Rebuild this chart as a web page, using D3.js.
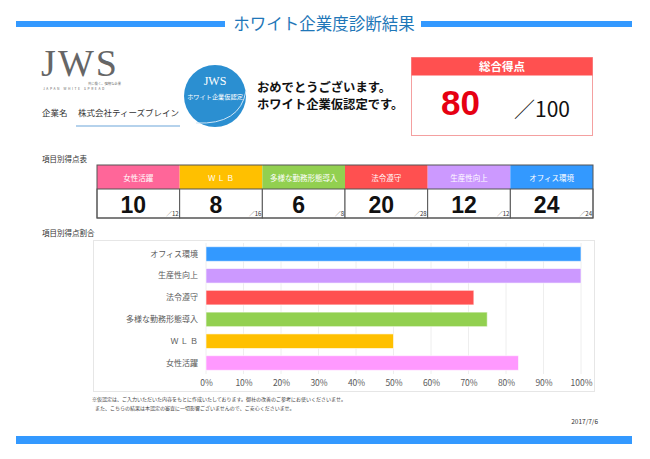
<!DOCTYPE html>
<html>
<head>
<meta charset="utf-8">
<script src="https://cdn.jsdelivr.net/npm/d3@7"></script>
<style>
  body { margin: 0; background: #fff; }
  svg { display: block; font-family: "Noto Sans CJK JP", "Noto Sans", sans-serif; }
</style>
</head>
<body>
<svg id="vis" width="650" height="459"></svg>
<script>
// 項目ごとのデータ
var categories = ["女性活躍", "ＷＬＢ", "多様な勤務形態導入", "法令遵守", "生産性向上", "オフィス環境"];
var scores = [10, 8, 6, 20, 12, 24];
var maxScores = [12, 16, 8, 28, 12, 24];
var headColors = ["#ff6699", "#ffc000", "#92d050", "#ff5050", "#cc99ff", "#3399ff"];
var barColors = ["#ff99ff", "#ffc000", "#92d050", "#ff5050", "#cc99ff", "#3399ff"];
var xTicks = [0, 0.1, 0.2, 0.3, 0.4, 0.5, 0.6, 0.7, 0.8, 0.9, 1];
var totalScore = 80, totalMax = 100;

var vis = d3.select("#vis");
var blue = "#3399ff";

// header
vis.append("rect").attr("x", 16).attr("y", 21).attr("width", 209).attr("height", 6).attr("fill", blue);
vis.append("rect").attr("x", 421).attr("y", 21).attr("width", 211).attr("height", 6).attr("fill", blue);
vis.append("text").attr("x", 324).attr("y", 30).attr("text-anchor", "middle")
  .attr("font-size", 16.5).attr("fill", "#1f77b8").text("ホワイト企業度診断結果");

// JWS logo
vis.append("text").attr("x", 41).attr("y", 76).attr("font-family", "Liberation Serif, DejaVu Serif, serif")
  .attr("font-size", 38).attr("fill", "#666").attr("textLength", 76).text("JWS");
vis.append("text").attr("x", 88).attr("y", 84.5).attr("font-size", 3.3).attr("fill", "#666").text("共に働く、強靭な企業");
vis.append("text").attr("x", 43).attr("y", 90).attr("font-size", 3.3).attr("fill", "#666")
  .attr("letter-spacing", 1.6).text("JAPAN WHITE SPREAD");

vis.append("text").attr("x", 42).attr("y", 116).attr("font-size", 8.5).attr("fill", "#333").text("企業名");
vis.append("text").attr("x", 78).attr("y", 116).attr("font-size", 8.5).attr("fill", "#333").text("株式会社ティーズブレイン");
vis.append("line").attr("x1", 76).attr("x2", 180).attr("y1", 126).attr("y2", 126)
  .attr("stroke", "#9cc3e6").attr("stroke-width", 1.5);

// circle logo
vis.append("circle").attr("cx", 215).attr("cy", 96).attr("r", 31).attr("fill", "#2b8fd1");
vis.append("path").attr("d", "M 196 123 Q 240 125 246 91").attr("fill", "none")
  .attr("stroke", "#cfe6f7").attr("stroke-width", 1);
vis.append("text").attr("x", 215).attr("y", 85).attr("text-anchor", "middle")
  .attr("font-family", "Liberation Serif, DejaVu Serif, serif").attr("font-size", 12).attr("fill", "#fff").text("JWS");
vis.append("text").attr("x", 215).attr("y", 99).attr("text-anchor", "middle")
  .attr("font-size", 6.2).attr("fill", "#fff").text("ホワイト企業仮認定");

vis.append("text").attr("x", 257).attr("y", 91.5).attr("font-size", 12.3).attr("font-weight", "bold").attr("fill", "#111")
  .text("おめでとうございます。");
vis.append("text").attr("x", 257).attr("y", 109).attr("font-size", 12.3).attr("font-weight", "bold").attr("fill", "#111")
  .text("ホワイト企業仮認定です。");

// total score box
vis.append("rect").attr("x", 411.5).attr("y", 57.5).attr("width", 181).attr("height", 78)
  .attr("fill", "#fff").attr("stroke", "#f4a0a0").attr("stroke-width", 1);
vis.append("rect").attr("x", 411.5).attr("y", 57.5).attr("width", 181).attr("height", 18).attr("fill", "#ff5050");
vis.append("text").attr("x", 502).attr("y", 71).attr("text-anchor", "middle").attr("font-size", 11.5)
  .attr("font-weight", "bold").attr("fill", "#fff").text("総合得点");
vis.append("text").attr("x", 441).attr("y", 115).attr("font-family", "Liberation Sans, Arial, sans-serif")
  .attr("font-size", 35).attr("font-weight", "bold").attr("fill", "#e60012").text(totalScore);
vis.append("text").attr("x", 514).attr("y", 117).attr("font-size", 21).attr("fill", "#111")
  .text("／" + totalMax);

// 項目別得点表
vis.append("text").attr("x", 42).attr("y", 162).attr("font-size", 7.5).attr("fill", "#333").text("項目別得点表");

var tx = d3.scaleBand().domain(categories).range([97, 593]);
var cols = vis.append("g").selectAll("g").data(categories).join("g")
  .attr("transform", function(d) { return "translate(" + tx(d) + ",0)"; });
cols.append("rect").attr("y", 165).attr("width", tx.bandwidth()).attr("height", 24)
  .attr("fill", function(d, i) { return headColors[i]; });
cols.append("text").attr("x", tx.bandwidth() / 2).attr("y", 180.5).attr("text-anchor", "middle")
  .attr("font-size", 7.5).attr("fill", "#fff").text(function(d) { return d === "ＷＬＢ" ? "Ｗ Ｌ Ｂ" : d; });
cols.append("rect").attr("y", 189).attr("width", tx.bandwidth()).attr("height", 29)
  .attr("fill", "#fff").attr("stroke", "#555").attr("stroke-width", 1);
cols.append("text").attr("x", tx.bandwidth() / 2 - 5).attr("y", 213).attr("text-anchor", "middle")
  .attr("font-family", "Liberation Sans, Arial, sans-serif").attr("font-size", 23).attr("font-weight", "bold")
  .attr("fill", "#111").text(function(d, i) { return scores[i]; });
cols.append("text").attr("x", tx.bandwidth() - 1).attr("y", 216).attr("text-anchor", "end")
  .attr("font-size", 6).attr("fill", "#333").text(function(d, i) { return "／" + maxScores[i]; });
vis.append("rect").attr("x", 97).attr("y", 165).attr("width", 496).attr("height", 53)
  .attr("fill", "none").attr("stroke", "#555").attr("stroke-width", 1);

// 項目別得点割合
vis.append("text").attr("x", 42).attr("y", 236).attr("font-size", 7.5).attr("fill", "#333").text("項目別得点割合");
vis.append("rect").attr("x", 93.5).attr("y", 240.5).attr("width", 501).attr("height", 151)
  .attr("fill", "#fff").attr("stroke", "#e6e6e6");

var x = d3.scaleLinear().domain([0, 1]).range([206, 581]);
var y = d3.scaleBand().domain(categories.slice().reverse()).range([243, 374]).paddingInner(0.33).paddingOuter(0.17);

vis.append("g").selectAll("line").data(xTicks).join("line")
  .attr("x1", function(d) { return x(d); }).attr("x2", function(d) { return x(d); })
  .attr("y1", 243).attr("y2", 374).attr("stroke", "#eeeeee");

var xAxis = d3.axisBottom(x).tickValues(xTicks).tickFormat(d3.format(".0%")).tickSize(0).tickPadding(6);
var gx = vis.append("g").attr("transform", "translate(0,374)").call(xAxis);
gx.select(".domain").remove();
gx.selectAll("text").attr("font-size", 8.5).attr("fill", "#595959").attr("font-family", "Noto Sans CJK JP, sans-serif");

var yAxis = d3.axisLeft(y).tickSize(0).tickPadding(8)
  .tickFormat(function(d) { return d === "ＷＬＢ" ? "Ｗ Ｌ Ｂ" : d; });
var gy = vis.append("g").attr("transform", "translate(206,0)").call(yAxis);
gy.select(".domain").remove();
gy.selectAll("text").attr("font-size", 8).attr("fill", "#595959").attr("font-family", "Noto Sans CJK JP, sans-serif");

vis.append("g").selectAll("rect").data(categories).join("rect")
  .attr("x", x(0)).attr("y", function(d) { return y(d); })
  .attr("width", function(d, i) { return x(scores[i] / maxScores[i]) - x(0); })
  .attr("height", y.bandwidth())
  .attr("fill", function(d, i) { return barColors[i]; })
  .attr("stroke", "#fff").attr("stroke-opacity", 0.6);

// footnote
vis.append("text").attr("x", 92).attr("y", 401).attr("font-size", 5).attr("fill", "#444")
  .text("※仮認定は、ご入力いただいた内容をもとに作成いたしております。御社の改善のご参考にお使いくださいませ。");
vis.append("text").attr("x", 95).attr("y", 410).attr("font-size", 5).attr("fill", "#444")
  .text("また、こちらの結果は本認定の審査に一切影響ございませんので、ご安心くださいませ。");
vis.append("text").attr("x", 598).attr("y", 424).attr("text-anchor", "end").attr("font-size", 6.5).attr("fill", "#333")
  .text("2017/7/6");

vis.append("rect").attr("x", 16).attr("y", 436).attr("width", 616).attr("height", 8).attr("fill", blue);
</script>
</body>
</html>
